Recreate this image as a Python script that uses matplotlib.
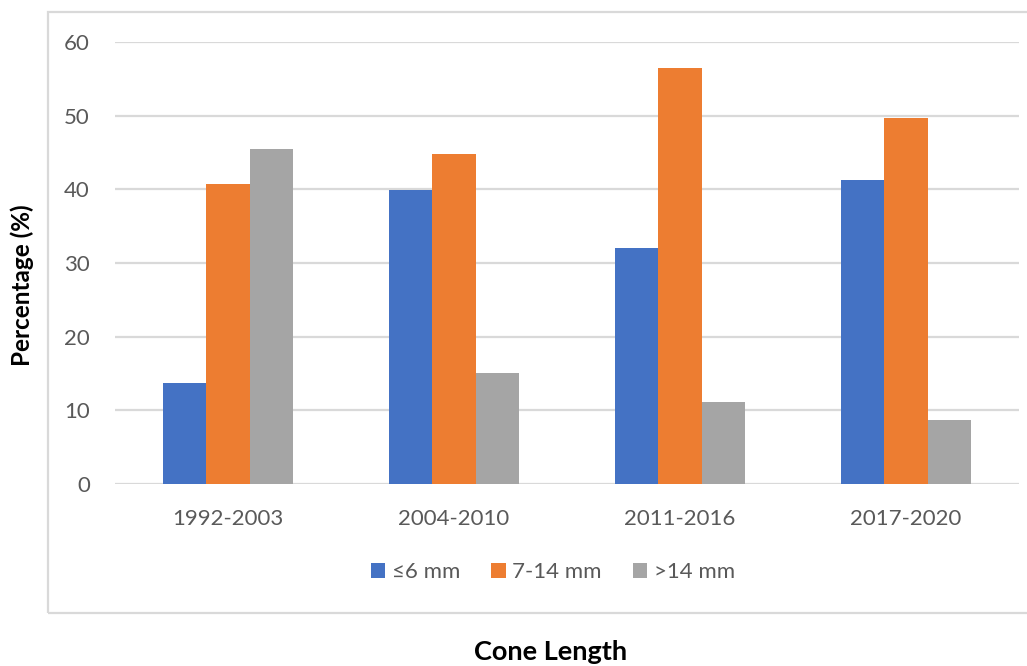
import matplotlib
matplotlib.use("Agg")
import matplotlib.pyplot as plt
import numpy as np
from matplotlib.patches import Rectangle

categories = ["1992-2003", "2004-2010", "2011-2016", "2017-2020"]
series_names = ["≤6 mm", "7-14 mm", ">14 mm"]
le6 = [13.7, 39.9, 32.1, 41.3]
mid = [40.7, 44.8, 56.5, 49.7]
gt14 = [45.5, 15.1, 11.1, 8.7]
colors = ["#4472C4", "#ED7D31", "#A5A5A5"]
yticks = [0, 10, 20, 30, 40, 50, 60]

plt.rcParams['font.family'] = ['Lato', 'DejaVu Sans']

fig = plt.figure(figsize=(10.27, 6.66), dpi=100)
# outer chart frame
fig.patches.append(Rectangle((48/1027, 1-613/666), 1.0, (613-12)/666,
                             transform=fig.transFigure, fill=False,
                             edgecolor="#d9d9d9", linewidth=1.6, zorder=0))

ax = fig.add_axes([115/1027, (666-484)/666, (1019-115)/1027, (484-42)/666])
x = np.arange(len(categories))
w = 0.193
for i, (vals, name, c) in enumerate(zip([le6, mid, gt14], series_names, colors)):
    ax.bar(x + (i-1)*w, vals, width=w, color=c, label=name, zorder=3)

ax.set_xlim(-0.5, 3.5)
ax.set_ylim(0, 60)
ax.set_yticks(yticks)
ax.set_xticks(x)
ax.set_xticklabels(categories)
ax.grid(axis='y', color="#d9d9d9", linewidth=1.6, zorder=0)
for s in ax.spines.values():
    s.set_visible(False)
ax.tick_params(axis='both', length=0, labelsize=16, labelcolor="#595959")
ax.tick_params(axis='y', pad=18)
ax.tick_params(axis='x', pad=18)

fig.text(22/1027, 1-285/666, "Percentage (%)", rotation=90, ha='center', va='center',
         fontsize=17.5, fontweight='bold', color='black')
fig.text(551/1027, 1-652/666, "Cone Length", ha='center', va='center',
         fontsize=19.5, fontweight='bold', color='black')

handles, labels = ax.get_legend_handles_labels()
leg = fig.legend(handles, labels, loc='center', bbox_to_anchor=(553/1027, 1-572/666),
                 ncol=3, frameon=False, fontsize=16, handlelength=0.65, handleheight=0.65,
                 handletextpad=0.3, columnspacing=1.4)
for t in leg.get_texts():
    t.set_color("#595959")

fig.savefig("out.png", dpi=100)
